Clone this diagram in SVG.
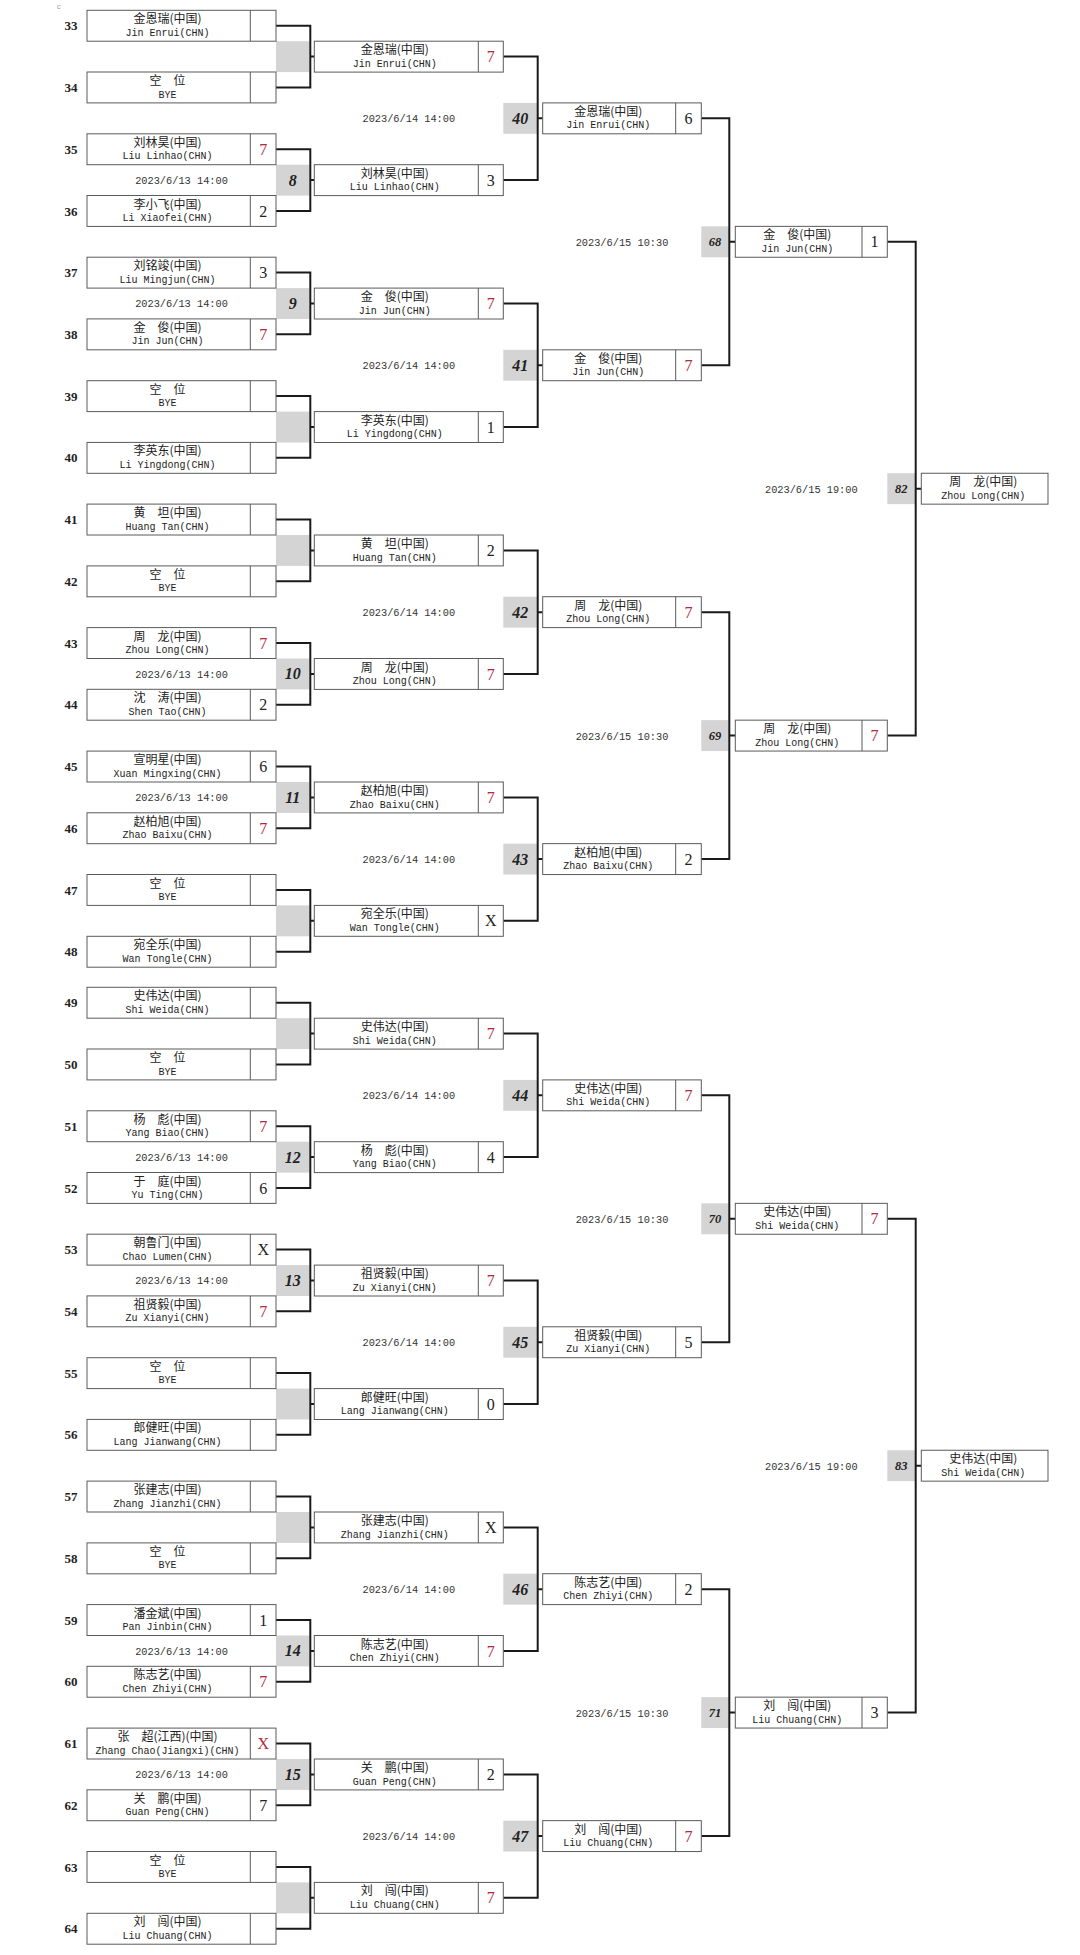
<svg xmlns="http://www.w3.org/2000/svg" width="1080" height="1955" viewBox="0 0 1080 1955">
<style>
.bg{fill:#fff}
.b{fill:#fff;stroke:#5a5a5a;stroke-width:1}
.d{stroke:#5a5a5a;stroke-width:1}
.g{fill:#d4d4d4}
.cn{font-family:"Noto Sans CJK SC","Noto Sans CJK TC",sans-serif;font-size:12px;fill:#222;text-anchor:middle}
.en{font-family:"Liberation Mono",monospace;font-size:10px;fill:#222;text-anchor:middle}
.dt{font-family:"Liberation Mono",monospace;font-size:10.3px;fill:#333;text-anchor:middle}
.sd{font-family:"Liberation Serif",serif;font-weight:bold;font-size:13px;fill:#222;text-anchor:middle}
.sc{font-family:"Liberation Serif",serif;font-size:16px;fill:#222;text-anchor:middle}
.r{fill:#b02a3c}
.mn{font-family:"Liberation Serif",serif;font-weight:bold;font-style:italic;font-size:16px;fill:#222;text-anchor:middle}
.ms{font-size:12.5px}
.cx{fill:none;stroke:#1a1a1a;stroke-width:2}
.tiny{font-family:"Liberation Sans",sans-serif;font-size:7px;fill:#999}
</style>
<rect class="bg" width="1080" height="1955"/>
<text class="tiny" x="57" y="9">c</text>

<g id="shading">
<rect class="g" x="276" y="41.2" width="33.3" height="30.9"/>
<rect class="g" x="276" y="164.7" width="33.3" height="30.9"/>
<rect class="g" x="276" y="288.1" width="33.3" height="30.9"/>
<rect class="g" x="276" y="411.6" width="33.3" height="30.9"/>
<rect class="g" x="276" y="535.0" width="33.3" height="30.9"/>
<rect class="g" x="276" y="658.5" width="33.3" height="30.9"/>
<rect class="g" x="276" y="782.0" width="33.3" height="30.9"/>
<rect class="g" x="276" y="905.4" width="33.3" height="30.9"/>
<rect class="g" x="276" y="1018.2" width="33.3" height="30.9"/>
<rect class="g" x="276" y="1141.7" width="33.3" height="30.9"/>
<rect class="g" x="276" y="1265.1" width="33.3" height="30.9"/>
<rect class="g" x="276" y="1388.6" width="33.3" height="30.9"/>
<rect class="g" x="276" y="1512.0" width="33.3" height="30.9"/>
<rect class="g" x="276" y="1635.5" width="33.3" height="30.9"/>
<rect class="g" x="276" y="1759.0" width="33.3" height="30.9"/>
<rect class="g" x="276" y="1882.4" width="33.3" height="30.9"/>
<rect class="g" x="503.3" y="102.9" width="33.7" height="30.9"/>
<rect class="g" x="503.3" y="349.8" width="33.7" height="30.9"/>
<rect class="g" x="503.3" y="596.7" width="33.7" height="30.9"/>
<rect class="g" x="503.3" y="843.65" width="33.7" height="30.9"/>
<rect class="g" x="503.3" y="1079.9" width="33.7" height="30.9"/>
<rect class="g" x="503.3" y="1326.8" width="33.7" height="30.9"/>
<rect class="g" x="503.3" y="1573.7" width="33.7" height="30.9"/>
<rect class="g" x="503.3" y="1820.65" width="33.7" height="30.9"/>
<rect class="g" x="701.3" y="226.35" width="27.5" height="30.9"/>
<rect class="g" x="701.3" y="720.15" width="27.5" height="30.9"/>
<rect class="g" x="701.3" y="1203.35" width="27.5" height="30.9"/>
<rect class="g" x="701.3" y="1697.15" width="27.5" height="30.9"/>
<rect class="g" x="887.3" y="473.25" width="27.7" height="30.9"/>
<rect class="g" x="887.3" y="1450.25" width="27.7" height="30.9"/>
</g>

<g id="connectors">
<path class="cx" d="M276,25.7H310.3V87.4H276M310.3,56.6H314.3"/>
<path class="cx" d="M276,149.2H310.3V210.9H276M310.3,180.1H314.3"/>
<path class="cx" d="M276,272.6H310.3V334.3H276M310.3,303.5H314.3"/>
<path class="cx" d="M276,396.1H310.3V457.8H276M310.3,427.0H314.3"/>
<path class="cx" d="M276,519.5H310.3V581.3H276M310.3,550.4H314.3"/>
<path class="cx" d="M276,643.0H310.3V704.7H276M310.3,673.9H314.3"/>
<path class="cx" d="M276,766.5H310.3V828.2H276M310.3,797.4H314.3"/>
<path class="cx" d="M276,889.9H310.3V951.7H276M310.3,920.8H314.3"/>
<path class="cx" d="M276,1002.7H310.3V1064.4H276M310.3,1033.6H314.3"/>
<path class="cx" d="M276,1126.2H310.3V1187.9H276M310.3,1157.1H314.3"/>
<path class="cx" d="M276,1249.6H310.3V1311.3H276M310.3,1280.5H314.3"/>
<path class="cx" d="M276,1373.1H310.3V1434.8H276M310.3,1404.0H314.3"/>
<path class="cx" d="M276,1496.5H310.3V1558.3H276M310.3,1527.4H314.3"/>
<path class="cx" d="M276,1620.0H310.3V1681.7H276M310.3,1650.9H314.3"/>
<path class="cx" d="M276,1743.5H310.3V1805.2H276M310.3,1774.4H314.3"/>
<path class="cx" d="M276,1866.9H310.3V1928.7H276M310.3,1897.8H314.3"/>
<path class="cx" d="M503.3,56.6H537.7V180.1H503.3M537.7,118.35H542.7"/>
<path class="cx" d="M503.3,303.5H537.7V427.0H503.3M537.7,365.25H542.7"/>
<path class="cx" d="M503.3,550.4H537.7V673.9H503.3M537.7,612.15H542.7"/>
<path class="cx" d="M503.3,797.4H537.7V920.8H503.3M537.7,859.1H542.7"/>
<path class="cx" d="M503.3,1033.6H537.7V1157.1H503.3M537.7,1095.35H542.7"/>
<path class="cx" d="M503.3,1280.5H537.7V1404.0H503.3M537.7,1342.25H542.7"/>
<path class="cx" d="M503.3,1527.4H537.7V1650.9H503.3M537.7,1589.15H542.7"/>
<path class="cx" d="M503.3,1774.4H537.7V1897.8H503.3M537.7,1836.1H542.7"/>
<path class="cx" d="M701.3,118.35H729.3V365.25H701.3M729.3,241.8H735.3"/>
<path class="cx" d="M701.3,612.15H729.3V859.1H701.3M729.3,735.6H735.3"/>
<path class="cx" d="M701.3,1095.35H729.3V1342.25H701.3M729.3,1218.8H735.3"/>
<path class="cx" d="M701.3,1589.15H729.3V1836.1H701.3M729.3,1712.6H735.3"/>
<path class="cx" d="M887.3,241.8H915.7V735.6H887.3M915.7,488.7H921.3"/>
<path class="cx" d="M887.3,1218.8H915.7V1712.6H887.3M915.7,1465.7H921.3"/>
</g>

<g id="match-numbers">
<text class="mn" x="292.7" y="185.6">8</text>
<text class="mn" x="292.7" y="309">9</text>
<text class="mn" x="292.7" y="679.4">10</text>
<text class="mn" x="292.7" y="802.9">11</text>
<text class="mn" x="292.7" y="1162.6">12</text>
<text class="mn" x="292.7" y="1286">13</text>
<text class="mn" x="292.7" y="1656.4">14</text>
<text class="mn" x="292.7" y="1779.9">15</text>
<text class="mn" x="520.3" y="123.9">40</text>
<text class="mn" x="520.3" y="370.8">41</text>
<text class="mn" x="520.3" y="617.7">42</text>
<text class="mn" x="520.3" y="864.6">43</text>
<text class="mn" x="520.3" y="1100.9">44</text>
<text class="mn" x="520.3" y="1347.8">45</text>
<text class="mn" x="520.3" y="1594.7">46</text>
<text class="mn" x="520.3" y="1841.6">47</text>
<text class="mn ms" x="715" y="246.3">68</text>
<text class="mn ms" x="715" y="740.1">69</text>
<text class="mn ms" x="715" y="1223.3">70</text>
<text class="mn ms" x="715" y="1717.1">71</text>
<text class="mn ms" x="901.2" y="493.2">82</text>
<text class="mn ms" x="901.2" y="1470.2">83</text>
</g>

<g id="dates">
<text class="dt" x="181.5" y="184">2023/6/13 14:00</text>
<text class="dt" x="181.5" y="307.4">2023/6/13 14:00</text>
<text class="dt" x="181.5" y="677.8">2023/6/13 14:00</text>
<text class="dt" x="181.5" y="801.3">2023/6/13 14:00</text>
<text class="dt" x="181.5" y="1161">2023/6/13 14:00</text>
<text class="dt" x="181.5" y="1284.4">2023/6/13 14:00</text>
<text class="dt" x="181.5" y="1654.8">2023/6/13 14:00</text>
<text class="dt" x="181.5" y="1778.3">2023/6/13 14:00</text>
<text class="dt" x="408.8" y="122.3">2023/6/14 14:00</text>
<text class="dt" x="408.8" y="369.2">2023/6/14 14:00</text>
<text class="dt" x="408.8" y="616.1">2023/6/14 14:00</text>
<text class="dt" x="408.8" y="863">2023/6/14 14:00</text>
<text class="dt" x="408.8" y="1099.3">2023/6/14 14:00</text>
<text class="dt" x="408.8" y="1346.2">2023/6/14 14:00</text>
<text class="dt" x="408.8" y="1593.1">2023/6/14 14:00</text>
<text class="dt" x="408.8" y="1840">2023/6/14 14:00</text>
<text class="dt" x="622" y="245.7">2023/6/15 10:30</text>
<text class="dt" x="622" y="739.5">2023/6/15 10:30</text>
<text class="dt" x="622" y="1222.7">2023/6/15 10:30</text>
<text class="dt" x="622" y="1716.5">2023/6/15 10:30</text>
<text class="dt" x="811.3" y="492.6">2023/6/15 19:00</text>
<text class="dt" x="811.3" y="1469.6">2023/6/15 19:00</text>
</g>

<g id="round1">
<g id="p33" transform="translate(87,10.3)"><rect class="b" width="189" height="30.9"/><line class="d" x1="163.3" y1="0" x2="163.3" y2="30.9"/><text class="sd" x="-16" y="20">33</text><text class="cn" x="80.5" y="13">金恩瑞(中国)</text><text class="en" x="80.5" y="25.5">Jin Enrui(CHN)</text></g>
<g id="p34" transform="translate(87,72.0)"><rect class="b" width="189" height="30.9"/><line class="d" x1="163.3" y1="0" x2="163.3" y2="30.9"/><text class="sd" x="-16" y="20">34</text><text class="cn" x="80.5" y="13">空　位</text><text class="en" x="80.5" y="25.5">BYE</text></g>
<g id="p35" transform="translate(87,133.8)"><rect class="b" width="189" height="30.9"/><line class="d" x1="163.3" y1="0" x2="163.3" y2="30.9"/><text class="sd" x="-16" y="20">35</text><text class="cn" x="80.5" y="13">刘林昊(中国)</text><text class="en" x="80.5" y="25.5">Liu Linhao(CHN)</text><text class="sc r" x="176.2" y="21">7</text></g>
<g id="p36" transform="translate(87,195.5)"><rect class="b" width="189" height="30.9"/><line class="d" x1="163.3" y1="0" x2="163.3" y2="30.9"/><text class="sd" x="-16" y="20">36</text><text class="cn" x="80.5" y="13">李小飞(中国)</text><text class="en" x="80.5" y="25.5">Li Xiaofei(CHN)</text><text class="sc" x="176.2" y="21">2</text></g>
<g id="p37" transform="translate(87,257.2)"><rect class="b" width="189" height="30.9"/><line class="d" x1="163.3" y1="0" x2="163.3" y2="30.9"/><text class="sd" x="-16" y="20">37</text><text class="cn" x="80.5" y="13">刘铭竣(中国)</text><text class="en" x="80.5" y="25.5">Liu Mingjun(CHN)</text><text class="sc" x="176.2" y="21">3</text></g>
<g id="p38" transform="translate(87,318.9)"><rect class="b" width="189" height="30.9"/><line class="d" x1="163.3" y1="0" x2="163.3" y2="30.9"/><text class="sd" x="-16" y="20">38</text><text class="cn" x="80.5" y="13">金　俊(中国)</text><text class="en" x="80.5" y="25.5">Jin Jun(CHN)</text><text class="sc r" x="176.2" y="21">7</text></g>
<g id="p39" transform="translate(87,380.7)"><rect class="b" width="189" height="30.9"/><line class="d" x1="163.3" y1="0" x2="163.3" y2="30.9"/><text class="sd" x="-16" y="20">39</text><text class="cn" x="80.5" y="13">空　位</text><text class="en" x="80.5" y="25.5">BYE</text></g>
<g id="p40" transform="translate(87,442.4)"><rect class="b" width="189" height="30.9"/><line class="d" x1="163.3" y1="0" x2="163.3" y2="30.9"/><text class="sd" x="-16" y="20">40</text><text class="cn" x="80.5" y="13">李英东(中国)</text><text class="en" x="80.5" y="25.5">Li Yingdong(CHN)</text></g>
<g id="p41" transform="translate(87,504.1)"><rect class="b" width="189" height="30.9"/><line class="d" x1="163.3" y1="0" x2="163.3" y2="30.9"/><text class="sd" x="-16" y="20">41</text><text class="cn" x="80.5" y="13">黄　坦(中国)</text><text class="en" x="80.5" y="25.5">Huang Tan(CHN)</text></g>
<g id="p42" transform="translate(87,565.9)"><rect class="b" width="189" height="30.9"/><line class="d" x1="163.3" y1="0" x2="163.3" y2="30.9"/><text class="sd" x="-16" y="20">42</text><text class="cn" x="80.5" y="13">空　位</text><text class="en" x="80.5" y="25.5">BYE</text></g>
<g id="p43" transform="translate(87,627.6)"><rect class="b" width="189" height="30.9"/><line class="d" x1="163.3" y1="0" x2="163.3" y2="30.9"/><text class="sd" x="-16" y="20">43</text><text class="cn" x="80.5" y="13">周　龙(中国)</text><text class="en" x="80.5" y="25.5">Zhou Long(CHN)</text><text class="sc r" x="176.2" y="21">7</text></g>
<g id="p44" transform="translate(87,689.3)"><rect class="b" width="189" height="30.9"/><line class="d" x1="163.3" y1="0" x2="163.3" y2="30.9"/><text class="sd" x="-16" y="20">44</text><text class="cn" x="80.5" y="13">沈　涛(中国)</text><text class="en" x="80.5" y="25.5">Shen Tao(CHN)</text><text class="sc" x="176.2" y="21">2</text></g>
<g id="p45" transform="translate(87,751.1)"><rect class="b" width="189" height="30.9"/><line class="d" x1="163.3" y1="0" x2="163.3" y2="30.9"/><text class="sd" x="-16" y="20">45</text><text class="cn" x="80.5" y="13">宣明星(中国)</text><text class="en" x="80.5" y="25.5">Xuan Mingxing(CHN)</text><text class="sc" x="176.2" y="21">6</text></g>
<g id="p46" transform="translate(87,812.8)"><rect class="b" width="189" height="30.9"/><line class="d" x1="163.3" y1="0" x2="163.3" y2="30.9"/><text class="sd" x="-16" y="20">46</text><text class="cn" x="80.5" y="13">赵柏旭(中国)</text><text class="en" x="80.5" y="25.5">Zhao Baixu(CHN)</text><text class="sc r" x="176.2" y="21">7</text></g>
<g id="p47" transform="translate(87,874.5)"><rect class="b" width="189" height="30.9"/><line class="d" x1="163.3" y1="0" x2="163.3" y2="30.9"/><text class="sd" x="-16" y="20">47</text><text class="cn" x="80.5" y="13">空　位</text><text class="en" x="80.5" y="25.5">BYE</text></g>
<g id="p48" transform="translate(87,936.3)"><rect class="b" width="189" height="30.9"/><line class="d" x1="163.3" y1="0" x2="163.3" y2="30.9"/><text class="sd" x="-16" y="20">48</text><text class="cn" x="80.5" y="13">宛全乐(中国)</text><text class="en" x="80.5" y="25.5">Wan Tongle(CHN)</text></g>
<g id="p49" transform="translate(87,987.3)"><rect class="b" width="189" height="30.9"/><line class="d" x1="163.3" y1="0" x2="163.3" y2="30.9"/><text class="sd" x="-16" y="20">49</text><text class="cn" x="80.5" y="13">史伟达(中国)</text><text class="en" x="80.5" y="25.5">Shi Weida(CHN)</text></g>
<g id="p50" transform="translate(87,1049.0)"><rect class="b" width="189" height="30.9"/><line class="d" x1="163.3" y1="0" x2="163.3" y2="30.9"/><text class="sd" x="-16" y="20">50</text><text class="cn" x="80.5" y="13">空　位</text><text class="en" x="80.5" y="25.5">BYE</text></g>
<g id="p51" transform="translate(87,1110.8)"><rect class="b" width="189" height="30.9"/><line class="d" x1="163.3" y1="0" x2="163.3" y2="30.9"/><text class="sd" x="-16" y="20">51</text><text class="cn" x="80.5" y="13">杨　彪(中国)</text><text class="en" x="80.5" y="25.5">Yang Biao(CHN)</text><text class="sc r" x="176.2" y="21">7</text></g>
<g id="p52" transform="translate(87,1172.5)"><rect class="b" width="189" height="30.9"/><line class="d" x1="163.3" y1="0" x2="163.3" y2="30.9"/><text class="sd" x="-16" y="20">52</text><text class="cn" x="80.5" y="13">于　庭(中国)</text><text class="en" x="80.5" y="25.5">Yu Ting(CHN)</text><text class="sc" x="176.2" y="21">6</text></g>
<g id="p53" transform="translate(87,1234.2)"><rect class="b" width="189" height="30.9"/><line class="d" x1="163.3" y1="0" x2="163.3" y2="30.9"/><text class="sd" x="-16" y="20">53</text><text class="cn" x="80.5" y="13">朝鲁门(中国)</text><text class="en" x="80.5" y="25.5">Chao Lumen(CHN)</text><text class="sc" x="176.2" y="21">X</text></g>
<g id="p54" transform="translate(87,1295.9)"><rect class="b" width="189" height="30.9"/><line class="d" x1="163.3" y1="0" x2="163.3" y2="30.9"/><text class="sd" x="-16" y="20">54</text><text class="cn" x="80.5" y="13">祖贤毅(中国)</text><text class="en" x="80.5" y="25.5">Zu Xianyi(CHN)</text><text class="sc r" x="176.2" y="21">7</text></g>
<g id="p55" transform="translate(87,1357.7)"><rect class="b" width="189" height="30.9"/><line class="d" x1="163.3" y1="0" x2="163.3" y2="30.9"/><text class="sd" x="-16" y="20">55</text><text class="cn" x="80.5" y="13">空　位</text><text class="en" x="80.5" y="25.5">BYE</text></g>
<g id="p56" transform="translate(87,1419.4)"><rect class="b" width="189" height="30.9"/><line class="d" x1="163.3" y1="0" x2="163.3" y2="30.9"/><text class="sd" x="-16" y="20">56</text><text class="cn" x="80.5" y="13">郎健旺(中国)</text><text class="en" x="80.5" y="25.5">Lang Jianwang(CHN)</text></g>
<g id="p57" transform="translate(87,1481.1)"><rect class="b" width="189" height="30.9"/><line class="d" x1="163.3" y1="0" x2="163.3" y2="30.9"/><text class="sd" x="-16" y="20">57</text><text class="cn" x="80.5" y="13">张建志(中国)</text><text class="en" x="80.5" y="25.5">Zhang Jianzhi(CHN)</text></g>
<g id="p58" transform="translate(87,1542.9)"><rect class="b" width="189" height="30.9"/><line class="d" x1="163.3" y1="0" x2="163.3" y2="30.9"/><text class="sd" x="-16" y="20">58</text><text class="cn" x="80.5" y="13">空　位</text><text class="en" x="80.5" y="25.5">BYE</text></g>
<g id="p59" transform="translate(87,1604.6)"><rect class="b" width="189" height="30.9"/><line class="d" x1="163.3" y1="0" x2="163.3" y2="30.9"/><text class="sd" x="-16" y="20">59</text><text class="cn" x="80.5" y="13">潘金斌(中国)</text><text class="en" x="80.5" y="25.5">Pan Jinbin(CHN)</text><text class="sc" x="176.2" y="21">1</text></g>
<g id="p60" transform="translate(87,1666.3)"><rect class="b" width="189" height="30.9"/><line class="d" x1="163.3" y1="0" x2="163.3" y2="30.9"/><text class="sd" x="-16" y="20">60</text><text class="cn" x="80.5" y="13">陈志艺(中国)</text><text class="en" x="80.5" y="25.5">Chen Zhiyi(CHN)</text><text class="sc r" x="176.2" y="21">7</text></g>
<g id="p61" transform="translate(87,1728.1)"><rect class="b" width="189" height="30.9"/><line class="d" x1="163.3" y1="0" x2="163.3" y2="30.9"/><text class="sd" x="-16" y="20">61</text><text class="cn" x="80.5" y="13">张　超(江西)(中国)</text><text class="en" x="80.5" y="25.5">Zhang Chao(Jiangxi)(CHN)</text><text class="sc r" x="176.2" y="21">X</text></g>
<g id="p62" transform="translate(87,1789.8)"><rect class="b" width="189" height="30.9"/><line class="d" x1="163.3" y1="0" x2="163.3" y2="30.9"/><text class="sd" x="-16" y="20">62</text><text class="cn" x="80.5" y="13">关　鹏(中国)</text><text class="en" x="80.5" y="25.5">Guan Peng(CHN)</text><text class="sc" x="176.2" y="21">7</text></g>
<g id="p63" transform="translate(87,1851.5)"><rect class="b" width="189" height="30.9"/><line class="d" x1="163.3" y1="0" x2="163.3" y2="30.9"/><text class="sd" x="-16" y="20">63</text><text class="cn" x="80.5" y="13">空　位</text><text class="en" x="80.5" y="25.5">BYE</text></g>
<g id="p64" transform="translate(87,1913.3)"><rect class="b" width="189" height="30.9"/><line class="d" x1="163.3" y1="0" x2="163.3" y2="30.9"/><text class="sd" x="-16" y="20">64</text><text class="cn" x="80.5" y="13">刘　闯(中国)</text><text class="en" x="80.5" y="25.5">Liu Chuang(CHN)</text></g>
</g>

<g id="round2">
<g id="r2-1" transform="translate(314.3,41.2)"><rect class="b" width="189" height="30.9"/><line class="d" x1="164" y1="0" x2="164" y2="30.9"/><text class="cn" x="80.5" y="13">金恩瑞(中国)</text><text class="en" x="80.5" y="25.5">Jin Enrui(CHN)</text><text class="sc r" x="176.5" y="21">7</text></g>
<g id="r2-2" transform="translate(314.3,164.7)"><rect class="b" width="189" height="30.9"/><line class="d" x1="164" y1="0" x2="164" y2="30.9"/><text class="cn" x="80.5" y="13">刘林昊(中国)</text><text class="en" x="80.5" y="25.5">Liu Linhao(CHN)</text><text class="sc" x="176.5" y="21">3</text></g>
<g id="r2-3" transform="translate(314.3,288.1)"><rect class="b" width="189" height="30.9"/><line class="d" x1="164" y1="0" x2="164" y2="30.9"/><text class="cn" x="80.5" y="13">金　俊(中国)</text><text class="en" x="80.5" y="25.5">Jin Jun(CHN)</text><text class="sc r" x="176.5" y="21">7</text></g>
<g id="r2-4" transform="translate(314.3,411.6)"><rect class="b" width="189" height="30.9"/><line class="d" x1="164" y1="0" x2="164" y2="30.9"/><text class="cn" x="80.5" y="13">李英东(中国)</text><text class="en" x="80.5" y="25.5">Li Yingdong(CHN)</text><text class="sc" x="176.5" y="21">1</text></g>
<g id="r2-5" transform="translate(314.3,535.0)"><rect class="b" width="189" height="30.9"/><line class="d" x1="164" y1="0" x2="164" y2="30.9"/><text class="cn" x="80.5" y="13">黄　坦(中国)</text><text class="en" x="80.5" y="25.5">Huang Tan(CHN)</text><text class="sc" x="176.5" y="21">2</text></g>
<g id="r2-6" transform="translate(314.3,658.5)"><rect class="b" width="189" height="30.9"/><line class="d" x1="164" y1="0" x2="164" y2="30.9"/><text class="cn" x="80.5" y="13">周　龙(中国)</text><text class="en" x="80.5" y="25.5">Zhou Long(CHN)</text><text class="sc r" x="176.5" y="21">7</text></g>
<g id="r2-7" transform="translate(314.3,782.0)"><rect class="b" width="189" height="30.9"/><line class="d" x1="164" y1="0" x2="164" y2="30.9"/><text class="cn" x="80.5" y="13">赵柏旭(中国)</text><text class="en" x="80.5" y="25.5">Zhao Baixu(CHN)</text><text class="sc r" x="176.5" y="21">7</text></g>
<g id="r2-8" transform="translate(314.3,905.4)"><rect class="b" width="189" height="30.9"/><line class="d" x1="164" y1="0" x2="164" y2="30.9"/><text class="cn" x="80.5" y="13">宛全乐(中国)</text><text class="en" x="80.5" y="25.5">Wan Tongle(CHN)</text><text class="sc" x="176.5" y="21">X</text></g>
<g id="r2-9" transform="translate(314.3,1018.2)"><rect class="b" width="189" height="30.9"/><line class="d" x1="164" y1="0" x2="164" y2="30.9"/><text class="cn" x="80.5" y="13">史伟达(中国)</text><text class="en" x="80.5" y="25.5">Shi Weida(CHN)</text><text class="sc r" x="176.5" y="21">7</text></g>
<g id="r2-10" transform="translate(314.3,1141.7)"><rect class="b" width="189" height="30.9"/><line class="d" x1="164" y1="0" x2="164" y2="30.9"/><text class="cn" x="80.5" y="13">杨　彪(中国)</text><text class="en" x="80.5" y="25.5">Yang Biao(CHN)</text><text class="sc" x="176.5" y="21">4</text></g>
<g id="r2-11" transform="translate(314.3,1265.1)"><rect class="b" width="189" height="30.9"/><line class="d" x1="164" y1="0" x2="164" y2="30.9"/><text class="cn" x="80.5" y="13">祖贤毅(中国)</text><text class="en" x="80.5" y="25.5">Zu Xianyi(CHN)</text><text class="sc r" x="176.5" y="21">7</text></g>
<g id="r2-12" transform="translate(314.3,1388.6)"><rect class="b" width="189" height="30.9"/><line class="d" x1="164" y1="0" x2="164" y2="30.9"/><text class="cn" x="80.5" y="13">郎健旺(中国)</text><text class="en" x="80.5" y="25.5">Lang Jianwang(CHN)</text><text class="sc" x="176.5" y="21">0</text></g>
<g id="r2-13" transform="translate(314.3,1512.0)"><rect class="b" width="189" height="30.9"/><line class="d" x1="164" y1="0" x2="164" y2="30.9"/><text class="cn" x="80.5" y="13">张建志(中国)</text><text class="en" x="80.5" y="25.5">Zhang Jianzhi(CHN)</text><text class="sc" x="176.5" y="21">X</text></g>
<g id="r2-14" transform="translate(314.3,1635.5)"><rect class="b" width="189" height="30.9"/><line class="d" x1="164" y1="0" x2="164" y2="30.9"/><text class="cn" x="80.5" y="13">陈志艺(中国)</text><text class="en" x="80.5" y="25.5">Chen Zhiyi(CHN)</text><text class="sc r" x="176.5" y="21">7</text></g>
<g id="r2-15" transform="translate(314.3,1759.0)"><rect class="b" width="189" height="30.9"/><line class="d" x1="164" y1="0" x2="164" y2="30.9"/><text class="cn" x="80.5" y="13">关　鹏(中国)</text><text class="en" x="80.5" y="25.5">Guan Peng(CHN)</text><text class="sc" x="176.5" y="21">2</text></g>
<g id="r2-16" transform="translate(314.3,1882.4)"><rect class="b" width="189" height="30.9"/><line class="d" x1="164" y1="0" x2="164" y2="30.9"/><text class="cn" x="80.5" y="13">刘　闯(中国)</text><text class="en" x="80.5" y="25.5">Liu Chuang(CHN)</text><text class="sc r" x="176.5" y="21">7</text></g>
</g>

<g id="round3">
<g id="m40" transform="translate(542.7,102.9)"><rect class="b" width="158.6" height="30.9"/><line class="d" x1="133" y1="0" x2="133" y2="30.9"/><text class="cn" x="65.5" y="13">金恩瑞(中国)</text><text class="en" x="65.5" y="25.5">Jin Enrui(CHN)</text><text class="sc" x="145.8" y="21">6</text></g>
<g id="m41" transform="translate(542.7,349.8)"><rect class="b" width="158.6" height="30.9"/><line class="d" x1="133" y1="0" x2="133" y2="30.9"/><text class="cn" x="65.5" y="13">金　俊(中国)</text><text class="en" x="65.5" y="25.5">Jin Jun(CHN)</text><text class="sc r" x="145.8" y="21">7</text></g>
<g id="m42" transform="translate(542.7,596.7)"><rect class="b" width="158.6" height="30.9"/><line class="d" x1="133" y1="0" x2="133" y2="30.9"/><text class="cn" x="65.5" y="13">周　龙(中国)</text><text class="en" x="65.5" y="25.5">Zhou Long(CHN)</text><text class="sc r" x="145.8" y="21">7</text></g>
<g id="m43" transform="translate(542.7,843.65)"><rect class="b" width="158.6" height="30.9"/><line class="d" x1="133" y1="0" x2="133" y2="30.9"/><text class="cn" x="65.5" y="13">赵柏旭(中国)</text><text class="en" x="65.5" y="25.5">Zhao Baixu(CHN)</text><text class="sc" x="145.8" y="21">2</text></g>
<g id="m44" transform="translate(542.7,1079.9)"><rect class="b" width="158.6" height="30.9"/><line class="d" x1="133" y1="0" x2="133" y2="30.9"/><text class="cn" x="65.5" y="13">史伟达(中国)</text><text class="en" x="65.5" y="25.5">Shi Weida(CHN)</text><text class="sc r" x="145.8" y="21">7</text></g>
<g id="m45" transform="translate(542.7,1326.8)"><rect class="b" width="158.6" height="30.9"/><line class="d" x1="133" y1="0" x2="133" y2="30.9"/><text class="cn" x="65.5" y="13">祖贤毅(中国)</text><text class="en" x="65.5" y="25.5">Zu Xianyi(CHN)</text><text class="sc" x="145.8" y="21">5</text></g>
<g id="m46" transform="translate(542.7,1573.7)"><rect class="b" width="158.6" height="30.9"/><line class="d" x1="133" y1="0" x2="133" y2="30.9"/><text class="cn" x="65.5" y="13">陈志艺(中国)</text><text class="en" x="65.5" y="25.5">Chen Zhiyi(CHN)</text><text class="sc" x="145.8" y="21">2</text></g>
<g id="m47" transform="translate(542.7,1820.65)"><rect class="b" width="158.6" height="30.9"/><line class="d" x1="133" y1="0" x2="133" y2="30.9"/><text class="cn" x="65.5" y="13">刘　闯(中国)</text><text class="en" x="65.5" y="25.5">Liu Chuang(CHN)</text><text class="sc r" x="145.8" y="21">7</text></g>
</g>

<g id="round4">
<g id="m68" transform="translate(735.3,226.35)"><rect class="b" width="152" height="30.9"/><line class="d" x1="126.7" y1="0" x2="126.7" y2="30.9"/><text class="cn" x="62" y="13">金　俊(中国)</text><text class="en" x="62" y="25.5">Jin Jun(CHN)</text><text class="sc" x="139.3" y="21">1</text></g>
<g id="m69" transform="translate(735.3,720.15)"><rect class="b" width="152" height="30.9"/><line class="d" x1="126.7" y1="0" x2="126.7" y2="30.9"/><text class="cn" x="62" y="13">周　龙(中国)</text><text class="en" x="62" y="25.5">Zhou Long(CHN)</text><text class="sc r" x="139.3" y="21">7</text></g>
<g id="m70" transform="translate(735.3,1203.35)"><rect class="b" width="152" height="30.9"/><line class="d" x1="126.7" y1="0" x2="126.7" y2="30.9"/><text class="cn" x="62" y="13">史伟达(中国)</text><text class="en" x="62" y="25.5">Shi Weida(CHN)</text><text class="sc r" x="139.3" y="21">7</text></g>
<g id="m71" transform="translate(735.3,1697.15)"><rect class="b" width="152" height="30.9"/><line class="d" x1="126.7" y1="0" x2="126.7" y2="30.9"/><text class="cn" x="62" y="13">刘　闯(中国)</text><text class="en" x="62" y="25.5">Liu Chuang(CHN)</text><text class="sc" x="139.3" y="21">3</text></g>
</g>

<g id="round5">
<g id="m82" transform="translate(921.3,473.25)"><rect class="b" width="126.7" height="30.9"/><text class="cn" x="62" y="13">周　龙(中国)</text><text class="en" x="62" y="25.5">Zhou Long(CHN)</text></g>
<g id="m83" transform="translate(921.3,1450.25)"><rect class="b" width="126.7" height="30.9"/><text class="cn" x="62" y="13">史伟达(中国)</text><text class="en" x="62" y="25.5">Shi Weida(CHN)</text></g>
</g>
</svg>
